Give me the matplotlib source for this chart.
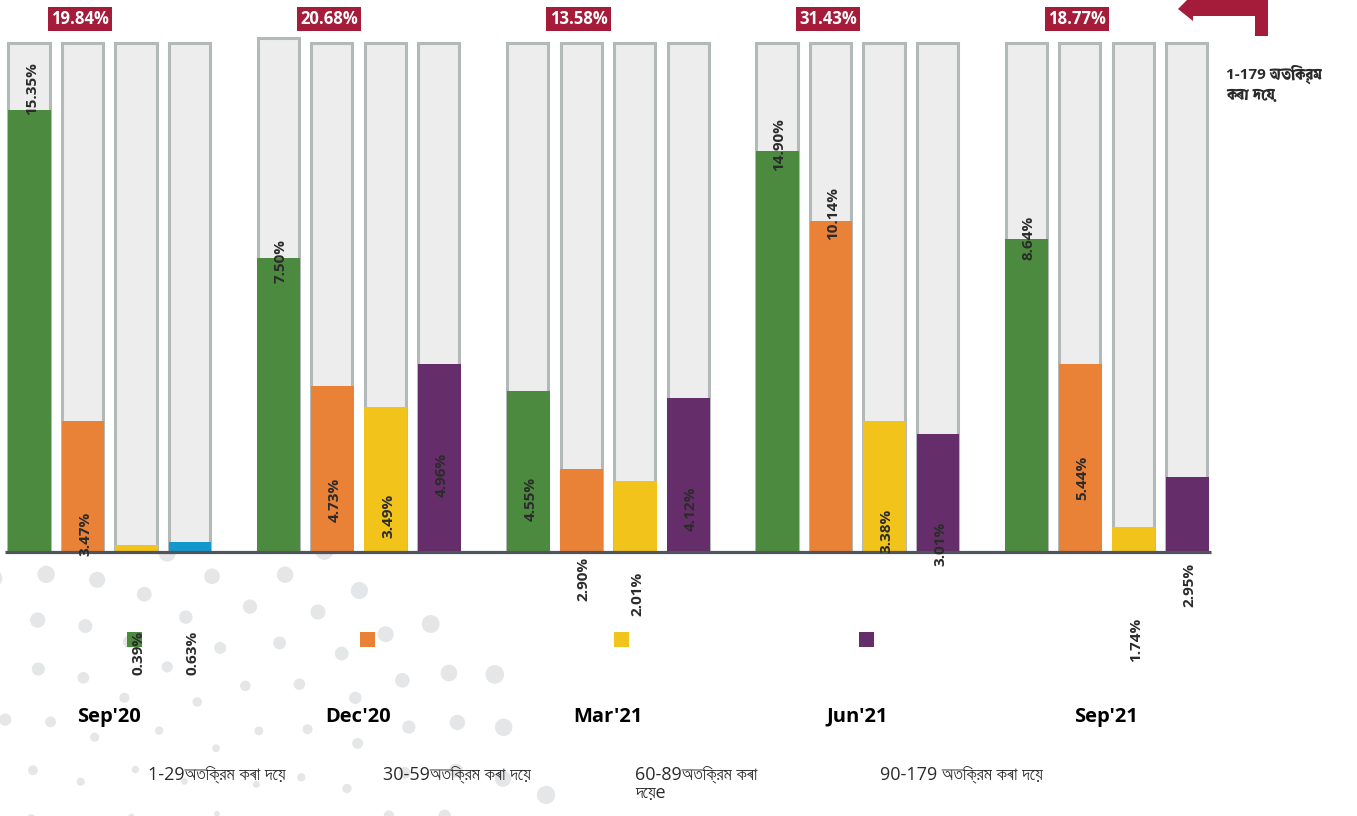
import numpy as np
import matplotlib
matplotlib.use("Agg")
import matplotlib.pyplot as plt
from matplotlib.patches import Circle, Rectangle, Polygon
from matplotlib import font_manager
from matplotlib.ft2font import FT2Font

# find installed families that have Bengali/Assamese glyphs (per weight)
beng_regular, beng_bold = [], []
for fe in font_manager.fontManager.ttflist:
    try:
        cmap = FT2Font(fe.fname).get_charmap()
    except Exception:
        continue
    if all(ord(ch) in cmap for ch in "অকতৰদেয়্"):
        w = fe.weight if isinstance(fe.weight, int) else 400
        if fe.style != 'normal':
            continue
        if w >= 600:
            beng_bold.append(fe.name)
        elif 350 <= w <= 500:
            beng_regular.append(fe.name)


def pick(names):
    names = sorted(set(names), key=lambda n: (('Sans' not in n), n))
    return names[0] if names else None


beng_reg_family = pick(beng_regular)
beng_bold_family = pick(beng_bold)
families = ['Open Sans'] + ([beng_reg_family] if beng_reg_family else []) + ['DejaVu Sans']
plt.rcParams['font.family'] = families
if beng_bold_family:
    note_family = ['Open Sans', beng_bold_family, 'DejaVu Sans']
    note_weight = 'bold'
else:
    note_family = families
    note_weight = 'normal'

# ---------------- data ----------------
quarters = ["Sep'20", "Dec'20", "Mar'21", "Jun'21", "Sep'21"]
totals = ["19.84%", "20.68%", "13.58%", "31.43%", "18.77%"]
series_names = ["1-29অতিক্রম কৰা দেয়", "30-59অতিক্রম কৰা দেয়",
                "60-89অতিক্রম কৰা\nদেয়e", "90-179 অতিক্রম কৰা দেয়"]
# value labels printed on the bars
labels_1_29 = ["15.35%", "7.50%", "4.55%", "14.90%", "8.64%"]
labels_30_59 = ["3.47%", "4.73%", "2.90%", "10.14%", "5.44%"]
labels_60_89 = ["0.39%", "3.49%", "2.01%", "3.38%", "1.74%"]
labels_90_179 = ["0.63%", "4.96%", "4.12%", "3.01%", "2.95%"]
# drawn bar heights (% of the grey track)
h_1_29 = [86.8, 57.8, 31.6, 78.8, 61.5]
h_30_59 = [25.7, 32.6, 16.3, 65.0, 36.9]
h_60_89 = [1.4, 28.5, 13.9, 25.7, 4.9]
h_90_179 = [2.0, 36.9, 30.3, 23.2, 14.7]
track_1_29 = [100, 101, 100, 100, 100]
right_note = "1-179 অতিক্রম\nকৰা দেয়"

# ---------------- style / layout ----------------
GREEN, ORANGE, YELLOW, PURPLE, BLUE = "#4C8A3F", "#E98137", "#F2C31B", "#652D69", "#1497CC"
series_colors = [GREEN, ORANGE, YELLOW, PURPLE]
color_override = {(0, 3): BLUE}
TRACK_FC, TRACK_EC = "#EDEDED", "#B3B8B9"
RED = "#A51C3A"
TXT = "#2B2B2B"

# label bottom positions (layout, in track units)
label_pos = [
    [85.9, -0.8, -24.2, -24.2],
    [52.8, 5.9, 2.75, 10.8],
    [6.1, -9.6, -12.5, 4.1],
    [74.9, 61.3, -0.2, -2.75],
    [57.4, 10.2, -21.6, -10.8],
]

W, H, DPI = 1357, 816, 100
PX_X = 53.5          # px per x unit
PX_Y = 5.09          # px per y unit
X0_PX, BASE_PX = 29, 552
GROUP_STEP = 4.66

fig = plt.figure(figsize=(W / DPI, H / DPI), dpi=DPI)

# background pixel axes (decoration, legend, notes)
bg = fig.add_axes([0, 0, 1, 1], zorder=0)
bg.set_xlim(0, W)
bg.set_ylim(H, 0)
bg.axis('off')

# halftone sunflower dots (deterministic phyllotaxis)
cx, cy, R, N = 190, 900, 385, 200
clip = Rectangle((0, BASE_PX + 1), W, H, transform=bg.transData, visible=False)
bg.add_patch(clip)
golden = np.pi * (3 - np.sqrt(5))
for n in range(1, N + 1):
    r = R * np.sqrt(n / N)
    a = n * golden
    x, y = cx + r * np.cos(a), cy - r * np.sin(a)
    c = Circle((x, y), 2.0 + 7.5 * (r / R) ** 1.5, fc="#E5E6E7", ec="none")
    bg.add_patch(c)
    c.set_clip_path(clip)

# main axes for bars
ax = fig.add_axes([0, 0, 1, 1], zorder=1)
ax.patch.set_alpha(0)
ax.set_xlim(-X0_PX / PX_X, (W - X0_PX) / PX_X)
ax.set_ylim(-(H - BASE_PX) / PX_Y, BASE_PX / PX_Y)
ax.axis('off')

heights = [h_1_29, h_30_59, h_60_89, h_90_179]
labels = [labels_1_29, labels_30_59, labels_60_89, labels_90_179]

for g in range(len(quarters)):
    for s in range(4):
        xc = g * GROUP_STEP + s
        track_h = track_1_29[g] if s == 0 else 100
        ax.bar(xc, track_h, width=0.77, color=TRACK_FC, edgecolor=TRACK_EC,
               linewidth=2.2, zorder=2)
        col = color_override.get((g, s), series_colors[s])
        ax.bar(xc + 0.01, heights[s][g], width=0.80, color=col, edgecolor='none', zorder=3)
        ax.text(xc + 0.05, label_pos[g][s], labels[s][g], rotation=90, ha='center',
                va='bottom', fontsize=11, fontweight='bold', color=TXT, zorder=5)
    # total box
    ax.text(g * GROUP_STEP + 0.95, 104.7, totals[g], ha='center', va='center',
            fontsize=12, fontweight='bold', color='white', zorder=5,
            bbox=dict(boxstyle='square,pad=0.2', fc=RED, ec='none'))
    # quarter label
    ax.text(g * GROUP_STEP + 1.5, -32.4, quarters[g], ha='center', va='center',
            fontsize=14.5, fontweight='bold', color='black', zorder=5)

# baseline
left = -0.45
right = (len(quarters) - 1) * GROUP_STEP + 3 + 0.45
ax.plot([left, right], [0, 0], color="#50545C", lw=2.3, zorder=4, solid_capstyle='butt')

# legend
leg_sq_x = [127, 360, 614, 859]
leg_tx_x = [148, 383, 635, 880]
for i in range(4):
    bg.add_patch(Rectangle((leg_sq_x[i], 632), 15, 15, fc=series_colors[i], ec='none', zorder=3))
    bg.text(leg_tx_x[i], 765, series_names[i], ha='left', va='top', fontsize=13,
            color=TXT, linespacing=1.05, zorder=3)

# right note and arrow
bg.text(1226, 65, right_note, ha='left', va='top', fontsize=11, fontweight=note_weight,
        family=note_family, color=TXT, linespacing=1.3, zorder=3)
arrow = Polygon([(1178, 9), (1193, -6), (1193, -1), (1268, -1), (1268, 36), (1255, 36),
                 (1255, 16), (1193, 16), (1193, 21)], closed=True, fc=RED, ec='none', zorder=3)
bg.add_patch(arrow)

fig.savefig("out.png", dpi=DPI)
